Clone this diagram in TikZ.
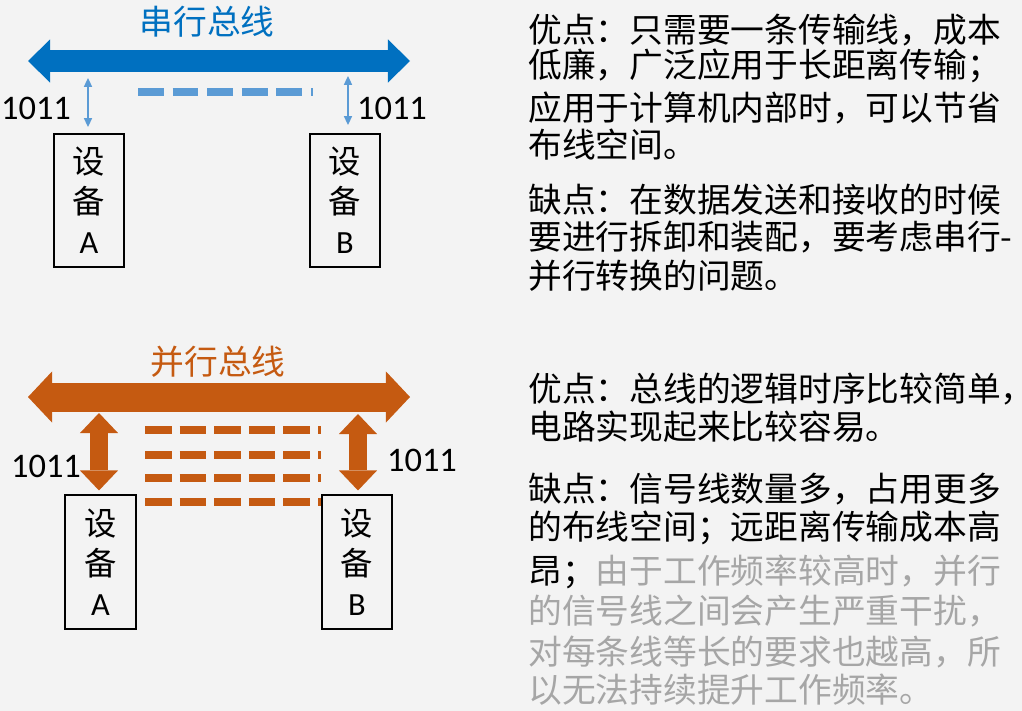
\documentclass[tikz,border=0pt]{standalone}
\usepackage{fontspec}
\setmainfont{Carlito}
\newfontfamily\cjk{Noto Sans CJK SC}
\usetikzlibrary{arrows.meta, positioning}
\definecolor{BusBlue}{RGB}{0,112,192}
\definecolor{LineBlue}{RGB}{91,155,213}
\definecolor{BusOrange}{RGB}{197,90,17}
\definecolor{NoteGray}{RGB}{166,166,166}
\definecolor{PageBg}{RGB}{243,243,243}

\begin{document}
\begin{tikzpicture}[x=0.025cm, y=-0.025cm,
  dev/.style={draw=black, line width=0.05cm, minimum width=1.75cm,
    minimum height=3.325cm, inner sep=0pt, align=center,
    font=\fontsize{23}{28.5}\selectfont},
  title/.style={inner sep=0pt, font=\cjk\fontsize{24}{28}\selectfont},
  num/.style={inner sep=0pt, font=\fontsize{24.5}{28}\selectfont},
  txt/.style={anchor=west, inner sep=0pt, font=\cjk\fontsize{24}{28}\selectfont},
  sbus/.style={BusBlue, line width=0.55cm,
    {Triangle[length=0.55cm, width=1.075cm, line width=0pt]}-{Triangle[length=0.55cm, width=1.075cm, line width=0pt]}},
  pbus/.style={BusOrange, line width=0.725cm,
    {Triangle[length=0.6cm, width=1.275cm, line width=0pt]}-{Triangle[length=0.6cm, width=1.275cm, line width=0pt]}},
  slink/.style={LineBlue, line width=0.04cm,
    {Triangle[length=0.22cm, width=0.2cm]}-{Triangle[length=0.22cm, width=0.2cm]}},
  plink/.style={BusOrange, line width=0.45cm,
    {Triangle[length=0.5cm, width=0.95cm, line width=0pt]}-{Triangle[length=0.5cm, width=0.95cm, line width=0pt]}},
  sdash/.style={LineBlue, line width=0.22cm, dash pattern=on 0.645cm off 0.22cm},
  pdash/.style={BusOrange, line width=0.2cm, dash pattern=on 0.665cm off 0.2cm}
]
\fill[PageBg] (0,0) rectangle (1022,711);
\useasboundingbox (0,0) rectangle (1022,711);

% serial bus
\node[title, text=BusBlue] (stitle) at (207,22) {串行总线};
\coordinate (sl) at (28,61);
\coordinate (sr) at (410,61);
\draw[sbus] (sl) -- (sr);
\node[dev] (sA) at (89,200.5) {\cjk 设\\\cjk 备\\A};
\node[dev] (sB) at (345,200.5) {\cjk 设\\\cjk 备\\B};
\coordinate (sa) at (88,78);
\coordinate (sb) at (348,76);
\draw[slink, shorten >=0.15cm] (sa) -- (sa |- sA.north);
\draw[slink, shorten >=0.2cm] (sb) -- (sb |- sB.north);
\draw[sdash] (138,92) -- (313,92);
\node[num] (snA) at (36,108) {1011};
\node[num] (snB) at (392,108) {1011};

% parallel bus
\node[title, text=BusOrange] (ptitle) at (218,362) {并行总线};
\coordinate (pl) at (28,397);
\coordinate (pr) at (410,397);
\draw[pbus] (pl) -- (pr);
\node[dev] (pA) at (100.5,562) {\cjk 设\\\cjk 备\\A};
\node[dev] (pB) at (357,562) {\cjk 设\\\cjk 备\\B};
\coordinate (pa) at (99,413);
\coordinate (pb) at (358,414);
\draw[plink, shorten >=0.1cm] (pa) -- (pa |- pA.north);
\draw[plink, shorten >=0.1cm] (pb) -- (pb |- pB.north);
\foreach \y in {430,455,478,502}
  \draw[pdash] (145,\y) -- (321,\y);
\node[num] (pnA) at (46,466) {1011};
\node[num] (pnB) at (422,460) {1011};

% notes
\foreach \y/\t [count=\i] in {
  30/{优点：只需要一条传输线，成本},
  66/{低廉，广泛应用于长距离传输；},
  108/{应用于计算机内部时，可以节省},
  145/{布线空间。},
  200/{缺点：在数据发送和接收的时候},
  237/{要进行拆卸和装配，要考虑串行-},
  276/{并行转换的问题。},
  389/{优点：总线的逻辑时序比较简单，},
  427/{电路实现起来比较容易。},
  489/{缺点：信号线数量多，占用更多},
  528/{的布线空间；远距离传输成本高},
  572/{昂；\color{NoteGray}由于工作频率较高时，并行},
  611/{\color{NoteGray}的信号线之间会产生严重干扰，},
  652/{\color{NoteGray}对每条线等长的要求也越高，所},
  690/{\color{NoteGray}以无法持续提升工作频率。}}
  \node[txt] (note\i) at (528,\y) {\t};
\end{tikzpicture}
\end{document}
